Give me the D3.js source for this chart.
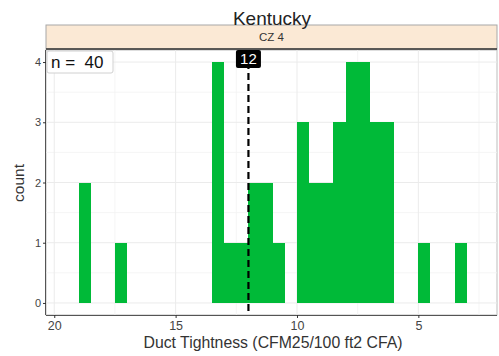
<!DOCTYPE html>
<html>
<head>
<meta charset="utf-8">
<script src="https://cdn.jsdelivr.net/npm/d3@7"></script>
<style>
  body { margin: 0; background: #fff; }
  text { font-family: Arial, "Liberation Sans", sans-serif; }
</style>
</head>
<body>
<svg id="chart" width="499" height="356"></svg>
<script>
// histogram bins (left edge, right edge) and counts, width 0.5
const binStarts = [18.5, 17, 13, 12.5, 12, 11.5, 11, 10.5, 9.5, 9, 8.5, 8, 7.5, 7, 6.5, 6, 4.5, 3];
const binCounts = [2, 1, 4, 1, 1, 2, 2, 1, 3, 2, 2, 3, 4, 4, 3, 3, 1, 1];
const binWidth = 0.5;
const xTicks = [20, 15, 10, 5];
const yTicks = [0, 1, 2, 3, 4];
const medianValue = 12;
const nObs = 40;
const title = "Kentucky";
const stripLabel = "CZ 4";

const svg = d3.select("#chart");
const pL = 46, pR = 497, pT = 50, pB = 315;

const x = d3.scaleLinear().domain([20.34, 1.76]).range([pL, pR]);
const y = d3.scaleLinear().domain([-0.2, 4.2]).range([pB, pT]);

// panel background
svg.append("rect").attr("x", pL).attr("y", pT)
  .attr("width", pR - pL).attr("height", pB - pT)
  .attr("fill", "#fff").attr("stroke", "#bdbdbd").attr("stroke-width", 1);

// grid
const minorX = xTicks.map(d => d - 2.5);
const minorY = yTicks.slice(0, -1).map(d => d + 0.5);
const grid = svg.append("g");
grid.selectAll(".mnx").data(minorX).enter().append("line")
  .attr("x1", d => x(d)).attr("x2", d => x(d)).attr("y1", pT).attr("y2", pB)
  .attr("stroke", "#f3f3f3").attr("stroke-width", 0.8);
grid.selectAll(".mny").data(minorY).enter().append("line")
  .attr("y1", d => y(d)).attr("y2", d => y(d)).attr("x1", pL).attr("x2", pR)
  .attr("stroke", "#f3f3f3").attr("stroke-width", 0.8);
grid.selectAll(".mjx").data(xTicks).enter().append("line")
  .attr("x1", d => x(d)).attr("x2", d => x(d)).attr("y1", pT).attr("y2", pB)
  .attr("stroke", "#ebebeb").attr("stroke-width", 1);
grid.selectAll(".mjy").data(yTicks).enter().append("line")
  .attr("y1", d => y(d)).attr("y2", d => y(d)).attr("x1", pL).attr("x2", pR)
  .attr("stroke", "#ebebeb").attr("stroke-width", 1);

// bars
const bins = binStarts.map((s, i) => ({x0: s, x1: s + binWidth, n: binCounts[i]}));
svg.append("g").selectAll("rect").data(bins).enter().append("rect")
  .attr("x", d => x(d.x1))
  .attr("width", d => x(d.x0) - x(d.x1))
  .attr("y", d => y(d.n))
  .attr("height", d => y(0) - y(d.n))
  .attr("fill", "#00BA38")
  .attr("shape-rendering", "crispEdges");

// median line
svg.append("line")
  .attr("x1", x(medianValue)).attr("x2", x(medianValue))
  .attr("y1", y(4)).attr("y2", pB)
  .attr("stroke", "#000").attr("stroke-width", 2.2)
  .attr("stroke-dasharray", "7,4");

// median label
const ml = svg.append("g").attr("transform", `translate(${x(medianValue)},59)`);
ml.append("rect").attr("x", -12.5).attr("y", -9).attr("width", 25).attr("height", 18)
  .attr("rx", 2).attr("fill", "#000");
ml.append("text").attr("text-anchor", "middle").attr("dy", "0.36em")
  .attr("fill", "#fff").attr("font-size", 15).text(medianValue);

// n label
const nl = svg.append("g");
nl.append("rect").attr("x", 47).attr("y", 51).attr("width", 66).attr("height", 22)
  .attr("rx", 2).attr("fill", "#fff").attr("stroke", "#d0d0d0");
nl.append("text").attr("x", 51).attr("y", 68).attr("font-size", 17)
  .attr("fill", "#111").attr("xml:space", "preserve").text("n =  " + nObs);

// strip
svg.append("rect").attr("x", pL).attr("y", 25).attr("width", pR - pL).attr("height", 24)
  .attr("fill", "#FBE9D5").attr("stroke", "#a8a8a8").attr("stroke-width", 1);
svg.append("line").attr("x1", pL).attr("x2", pR).attr("y1", 49).attr("y2", 49)
  .attr("stroke", "#333").attr("stroke-width", 1.5);
svg.append("text").attr("x", (pL + pR) / 2).attr("y", 41)
  .attr("text-anchor", "middle").attr("font-size", 11.5).attr("fill", "#333").text(stripLabel);

// title
svg.append("text").attr("x", 272).attr("y", 25).attr("text-anchor", "middle")
  .attr("font-size", 19).attr("fill", "#222").text(title);

// axes
const xAxis = svg.append("g").attr("transform", `translate(0,${pB})`)
  .call(d3.axisBottom(x).tickValues(xTicks).tickSize(3).tickPadding(3));
xAxis.select(".domain").attr("stroke", "#555").attr("d", `M${pL},0.5H${pR}`);
xAxis.selectAll(".tick line").attr("stroke", "#333");
xAxis.selectAll("text").attr("font-size", 12.5).attr("fill", "#444")
  .attr("font-family", "Arial, 'Liberation Sans', sans-serif");

const yAxis = svg.append("g").attr("transform", `translate(${pL},0)`)
  .call(d3.axisLeft(y).tickValues(yTicks).tickSize(3).tickPadding(2).tickFormat(d3.format("d")));
yAxis.select(".domain").attr("stroke", "#555").attr("d", `M-0.5,${pT}V${pB}`);
yAxis.selectAll(".tick line").attr("stroke", "#333");
yAxis.selectAll("text").attr("font-size", 11).attr("fill", "#444")
  .attr("font-family", "Arial, 'Liberation Sans', sans-serif");

// axis titles
svg.append("text").attr("x", 273).attr("y", 348).attr("text-anchor", "middle")
  .attr("font-size", 15.8).attr("fill", "#333").text("Duct Tightness (CFM25/100 ft2 CFA)");
svg.append("text").attr("transform", "translate(24,183) rotate(-90)")
  .attr("text-anchor", "middle").attr("font-size", 15.5).attr("fill", "#333").text("count");
</script>
</body>
</html>
